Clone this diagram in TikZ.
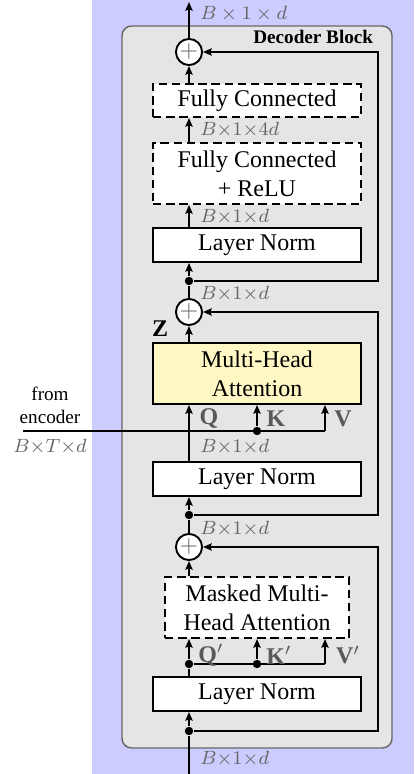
\documentclass[tikz,border=0pt]{standalone}
\usepackage{fontspec}
\setmainfont{Liberation Serif}
\usetikzlibrary{positioning,calc,arrows.meta}
\definecolor{attnyellow}{RGB}{255,248,197}
\tikzset{
  >={Stealth[length=3.6pt,width=3pt,inset=0.5pt]},
  my block/.style={
    draw,
    thick,
    fill=white,
    minimum width=86.8pt,
    minimum height=14.2pt,
    inner sep=0.5mm,
    align=center
  },
  my dashed/.style={
    dash pattern=on 3.5pt off 2pt
  },
  my add/.style={
    draw,
    thick,
    circle,
    fill=white,
    minimum size=10.9pt,
    inner sep=0pt,
    text=black!60
  },
  my dot/.style={
    circle,
    fill,
    inner sep=0pt,
    minimum size=3.5pt
  },
  my dim/.style={
    anchor=west,
    inner sep=1pt,
    text=black!60,
    font=\footnotesize
  }
}

\begin{document}
\begin{tikzpicture}[x=0.4175pt,y=0.4175pt,thick,qkv/.style={text=black!65}]
\useasboundingbox (0,0) rectangle (414,774);
\fill[blue!20] (92,0) rectangle (414,774);
\draw[semithick,draw=black!60,fill=black!10,rounded corners=4pt] (122,26) rectangle (392,748);
\node (title) [font=\footnotesize\bfseries,anchor=east] at (382,737) {Decoder Block};

% feed-forward part
\coordinate (out) at (189,772);
\node (add1) [my add] at (189,722) {$+$};
\node (fc2) [my block,my dashed,minimum height=13.8pt] at (257,673.5) {Fully Connected};
\node (fc1) [my block,my dashed,minimum height=25.5pt] at (257,600.5) {Fully Connected\\+ ReLU};
\node (ln1) [my block] at (257,529) {Layer Norm};
\node (d1) [my dot] at (189,493) {};

% cross attention
\node (add2) [my add] at (189,462) {$+$};
\node (mha) [my block,fill=attnyellow,minimum height=25.5pt] at (257,400.5) {Multi-Head\\Attention};
\node (ln2) [my block] at (257,295) {Layer Norm};
\node (d2) [my dot] at (189,259) {};
\coordinate (enc) at (23,343);
\node (dk) [my dot] at (257,343) {};
\coordinate (v) at (325,343);

% masked self attention
\node (add3) [my add] at (189,227) {$+$};
\node (mmha) [my block,my dashed,minimum width=76.8pt,minimum height=25.5pt] at (257,166.5) {Masked Multi-\\Head Attention};
\node (dq2) [my dot] at (189,110) {};
\node (dk2) [my dot] at (257,110) {};
\coordinate (v2) at (325,110);
\node (ln3) [my block] at (257,80) {Layer Norm};
\node (d3) [my dot] at (189,43) {};
\coordinate (in) at (189,0);

% connectors
\draw[->] (add1) -- (out);
\draw[->] (fc2.north -| add1) -- (add1);
\draw[->] (fc1.north -| add1) -- (fc2.south -| add1);
\draw[->] (ln1.north -| add1) -- (fc1.south -| add1);
\draw[->] (d1) -- (ln1.south -| d1);
\draw[->] (d1) -- ++(189,0) |- (add1);
\draw (add2) -- (d1);
\draw[->] (mha.north -| add2) -- (add2);
\draw[->] (ln2.north -| add2) -- (mha.south -| add2);
\draw (enc) -- (v);
\draw[->] (dk) -- (dk |- mha.south);
\draw[->] (v) -- (v |- mha.south);
\draw[->] (d2) -- (ln2.south -| d2);
\draw[->] (d2) -- ++(189,0) |- (add2);
\draw (add3) -- (d2);
\draw[->] (mmha.north -| add3) -- (add3);
\draw (ln3.north -| dq2) -- (dq2) -- (v2);
\draw[->] (dq2) -- (dq2 |- mmha.south);
\draw[->] (dk2) -- (dk2 |- mmha.south);
\draw[->] (v2) -- (v2 |- mmha.south);
\draw[->] (d3) -- (ln3.south -| d3);
\draw[->] (d3) -- ++(189,0) |- (add3);
\draw (in) -- (d3);

% labels
\node (z) at (160,445) {$\mathbf{Z}$};
\node (q) [qkv] at (209,355) {$\mathbf{Q}$};
\node (k) [qkv] at (276,355) {$\mathbf{K}$};
\node (vl) [qkv] at (343,355) {$\mathbf{V}$};
\node (q2) [qkv] at (211,119) {$\mathbf{Q}'$};
\node (k2) [qkv] at (279,119) {$\mathbf{K}'$};
\node (vl2) [qkv] at (348,119) {$\mathbf{V}'$};
\node (src) [font=\footnotesize,align=center] at (50,369) {from\\encoder};
\node (srcdim) [font=\footnotesize,text=black!60] at (50,327) {$B{\times}T{\times}d$};
\node (dim0) [my dim] at (197,760) {$B\times1\times d$};
\node (dim1) [my dim] at (197,644) {$B{\times}1{\times}4d$};
\node (dim2) [my dim] at (197,557) {$B{\times}1{\times}d$};
\node (dim3) [my dim] at (197,480) {$B{\times}1{\times}d$};
\node (dim4) [my dim] at (197,327) {$B{\times}1{\times}d$};
\node (dim5) [my dim] at (197,245) {$B{\times}1{\times}d$};
\node (dim6) [my dim] at (197,15) {$B{\times}1{\times}d$};
\end{tikzpicture}
\end{document}
